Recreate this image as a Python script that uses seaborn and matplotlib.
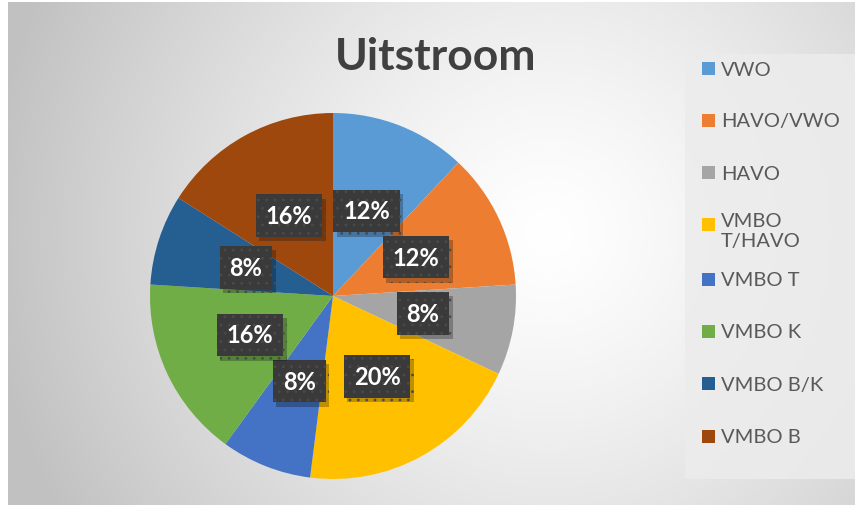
import numpy as np
import matplotlib
matplotlib.use("Agg")
import matplotlib.pyplot as plt
import matplotlib.patheffects as pe
import seaborn as sns
from matplotlib.patches import Rectangle

sns.set_theme(style="white")
plt.rcParams['font.family'] = ['Lato', 'DejaVu Sans']
plt.rcParams['hatch.linewidth'] = 0.8

categories = ["VWO", "HAVO/VWO", "HAVO", "VMBO T/HAVO", "VMBO T", "VMBO K", "VMBO B/K", "VMBO B"]
legend_labels = ["VWO", "HAVO/VWO", "HAVO", "VMBO\nT/HAVO", "VMBO T", "VMBO K", "VMBO B/K", "VMBO B"]
values = [12, 12, 8, 20, 8, 16, 8, 16]
colors = ["#5B9BD5", "#ED7D31", "#A5A5A5", "#FFC000", "#4472C4", "#70AD47", "#255E91", "#9E480E"]
title = "Uitstroom"

W, H = 855, 506
fig = plt.figure(figsize=(W / 100, H / 100), dpi=100)
fig.patch.set_facecolor("white")

# background gradient (chart area)
bg = fig.add_axes([8 / W, 0, 1 - 8 / W, 1 - 3 / H])
yy, xx = np.mgrid[0:503, 0:847]
cx, cy = 540, 230
d = np.sqrt((xx - cx) ** 2 + (yy - cy) ** 2) / 560.0
v = 1.0 - 0.24 * np.clip(d, 0, 1) ** 1.3
bg.imshow(np.dstack([v, v, v]), aspect="auto", extent=[0, 1, 0, 1], origin="upper")
bg.set_axis_off()

# legend box
fig.patches.append(Rectangle((685 / W, 1 - 480 / H), (W - 685) / W, (480 - 55) / H,
                             transform=fig.transFigure, facecolor="#ececec",
                             edgecolor="none", alpha=0.85, zorder=1))

# pie
R = 183
cxp, cyp = 333, 297
ax = fig.add_axes([(cxp - R) / W, 1 - (cyp + R) / H, 2 * R / W, 2 * R / H])
ax.set_facecolor("none")
wedges, texts = ax.pie(values, colors=colors, startangle=90, counterclock=False,
                       wedgeprops=dict(linewidth=0), radius=1.0)
ax.set_xlim(-1, 1)
ax.set_ylim(-1, 1)
ax.set_aspect("equal")

for val, w in zip(values, wedges):
    mid = np.deg2rad((w.theta1 + w.theta2) / 2)
    x, y = 0.5 * np.cos(mid), 0.5 * np.sin(mid)
    t = ax.text(x, y, f"{val}%", ha="center", va="center", fontsize=17,
                fontweight="bold", color="white",
                bbox=dict(boxstyle="square,pad=0.42", facecolor="#3a3a3a", edgecolor="#4a4a4a",
                          hatch="..", linewidth=0))
    t.get_bbox_patch().set_path_effects([
        pe.SimplePatchShadow(offset=(2.5, -3), shadow_rgbFace="black", alpha=0.25),
        pe.Normal()])

fig.text(436 / W, 1 - 57 / H, title, ha="center", va="center", fontsize=32,
         fontweight="bold", color="#404040")

# legend
ys = [69, 121, 173, 225, 280, 332, 384, 437]
for lab, col, y in zip(legend_labels, colors, ys):
    fig.patches.append(Rectangle((702 / W, 1 - (y + 7) / H), 13 / W, 13 / H,
                                 transform=fig.transFigure, facecolor=col,
                                 edgecolor="none", zorder=3))
    if "\n" in lab:
        fig.text(721 / W, 1 - (y - 12) / H, lab, ha="left", va="top",
                 fontsize=14.5, color="#595959", linespacing=1.25)
    else:
        fig.text(721 / W, 1 - (y + 1) / H, lab, ha="left", va="center",
                 fontsize=14.5, color="#595959")

fig.savefig("out.png", dpi=100)
